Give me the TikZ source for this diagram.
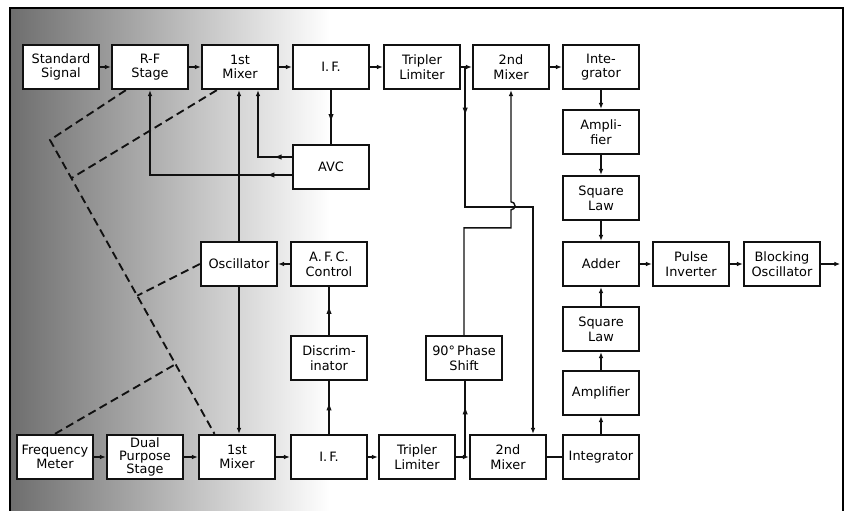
\documentclass[tikz,border=0pt]{standalone}
\usepackage{fontspec}
\setmainfont{DejaVu Sans}
\usetikzlibrary{arrows.meta,calc,decorations.markings}
\definecolor{ink}{HTML}{111111}
\definecolor{scan}{HTML}{6E6E6E}

\begin{document}
\begin{tikzpicture}[x=0.03cm,y=-0.03cm,
  blk/.style={draw=ink,fill=white,line width=2pt,minimum width=2.28cm,minimum height=1.32cm,align=center,inner sep=1pt,font=\fontsize{11}{12.5}\selectfont},
  wire/.style={draw=ink,line width=1.2pt},
  conn/.style={wire,-{Latex[length=5pt,width=4pt]}},
  gang/.style={draw=ink,line width=1.6pt,dash pattern=on 7pt off 4pt},
  midarr/.style={decoration={markings,mark=at position #1 with {\fill[ink] (3pt,0pt) -- (-2.5pt,2.2pt) -- (-2.5pt,-2.2pt) -- cycle;}},postaction={decorate}}]
\useasboundingbox (0,0) rectangle (848,511);
\fill[white] (0,0) rectangle (848,511);
\shade[left color=scan,right color=white] (10,8) rectangle (330,511);
\draw[line width=2pt] (10,511) |- (843,8) -- (843,511);

\foreach \nm/\x/\txt in {ss/61/Standard\\Signal,rf/150/R-F\\Stage,mxa/240/1st\\Mixer,ifa/331/I.\,F.,tla/422/Tripler\\Limiter,mxb/511/2nd\\Mixer,ina/601/Inte-\\grator}
  \node[blk] (\nm) at (\x,67) {\txt};
\foreach \nm/\y/\txt in {ama/132/Ampli-\\fier,sqa/198/Square\\Law,add/264/Adder,sqb/329/Square\\Law,amb/393/Amplifier}
  \node[blk] (\nm) at (601,\y) {\txt};
\foreach \nm/\x/\txt in {fm/55/Frequency\\Meter,mxc/237/1st\\Mixer,ifb/329/I.\,F.,tlb/417/Tripler\\Limiter,mxd/508/2nd\\Mixer,inb/601/Integrator}
  \node[blk] (\nm) at (\x,457) {\txt};
\node[blk,font=\fontsize{11}{11}\selectfont] (dps) at (145,457) {Dual\\Purpose\\Stage};
\node[blk] (avc) at (331,167) {AVC};
\node[blk] (osc) at (239,264) {Oscillator};
\node[blk] (afc) at (329,264) {A.\,F.\,C.\\Control};
\node[blk] (dis) at (329,358) {Discrim-\\inator};
\node[blk] (ps) at (464,358) {90°\,Phase\\Shift};
\node[blk] (pinv) at (691,264) {Pulse\\Inverter};
\node[blk] (bo) at (782,264) {Blocking\\Oscillator};

\foreach \a/\b in {ss/rf,rf/mxa,mxa/ifa,ifa/tla,tla/mxb,mxb/ina,ina/ama,ama/sqa,sqa/add,add/pinv,pinv/bo,fm/dps,dps/mxc,mxc/ifb,ifb/tlb,tlb/mxd,inb/amb,amb/sqb,sqb/add,afc/osc}
  \draw[conn] (\a) -- (\b);
\draw[wire] (mxd) -- (inb);
\coordinate (out) at ([xshift=0.57cm]bo.east);
\draw[conn] (bo) -- (out);

\draw[wire,midarr=0.5] (ifa) -- (avc);
\draw[conn,midarr=0.13] ([yshift=0.3cm]avc.west) -| ([xshift=0.54cm]mxa.south);
\draw[conn,midarr=0.09] ([yshift=-0.24cm]avc.west) -| (rf.south);
\draw[conn] (osc.north) -- (osc.north |- mxa.south);
\draw[conn] (osc.south) -- (osc.south |- mxc.north);
\draw[wire,midarr=0.5] (dis) -- (afc);
\draw[wire,midarr=0.5] (ifb) -- (dis);

\coordinate (tapA) at ([xshift=0.12cm]tla.east);
\coordinate (tapB) at ([xshift=0.27cm]tlb.east);
\draw[conn,midarr=0.1] (tapA) -- ++(0,140) -| ([xshift=0.75cm]mxd.north);
\draw[conn] (ps.north) -- ++(0,-107) -- ++(47,0) -- ++(0,-18) arc[start angle=-90,end angle=90,radius=0.12cm] -- (mxb.south);
\draw[wire,midarr=0.6] (tapB) -- (tapB |- ps.south);

\coordinate (gA) at (50,140);
\coordinate (gB) at ([xshift=0.5cm]mxc.north west);
\draw[gang] ([xshift=0.45cm]rf.south west) -- (gA) -- (gB);
\draw[gang] ([xshift=0.48cm]mxa.south west) -- ($(gA)!0.13!(gB)$);
\draw[gang] (osc.west) -- ($(gA)!0.53!(gB)$);
\draw[gang] (fm.north) -- ($(gA)!0.763!(gB)$);
\end{tikzpicture}
\end{document}
